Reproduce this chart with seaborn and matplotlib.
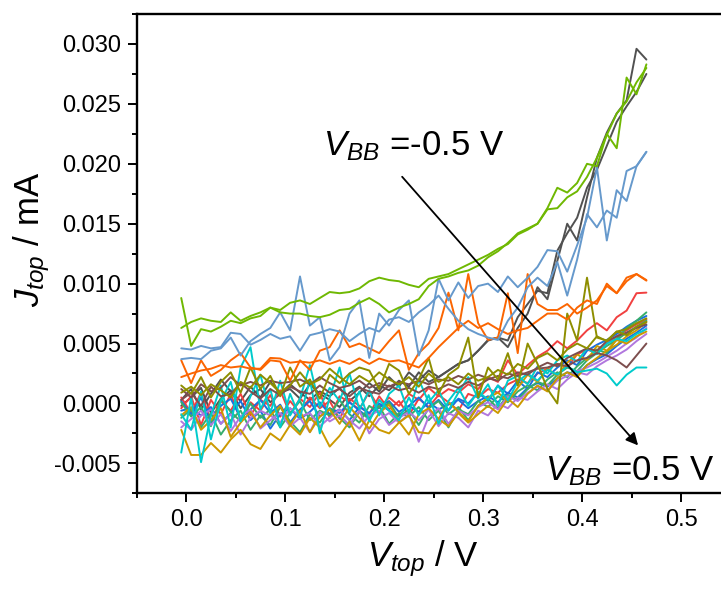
import matplotlib
matplotlib.use("Agg")
import matplotlib.pyplot as plt
import numpy as np
import pandas as pd
import seaborn as sns
from matplotlib.ticker import MultipleLocator, FormatStrFormatter

# Top-electrode bias sweep (V)
V_top = [-0.005, 0.005, 0.015, 0.025, 0.035, 0.045, 0.055, 0.065, 0.075, 0.085,
         0.095, 0.105, 0.115, 0.125, 0.135, 0.145, 0.155, 0.165, 0.175, 0.185,
         0.195, 0.205, 0.215, 0.225, 0.235, 0.245, 0.255, 0.265, 0.275, 0.285,
         0.295, 0.305, 0.315, 0.325, 0.335, 0.345, 0.355, 0.365, 0.375, 0.385,
         0.395, 0.405, 0.415, 0.425, 0.435, 0.445, 0.455, 0.465]

# Top-electrode current, in units of 1e-3 mA (two sweeps per curve colour)
J_gray_1 = [0.3, 1.2, -0.5, 0.8, 2.0, 1.0, 0.2, 1.4, 0.5, 1.8, 0.9, 1.2, 0.4, 1.6, 0.8, 0.3,
            -0.3, 0.9, 1.4, 0.6, 1.5, 1.1, 1.9, 1.4, 2.6, 1.8, 2.2, 2.75, 3.3, 3.6, 4.4, 5.3,
            5.5, 4.7, 6.3, 7.5, 9.7, 8.7, 11.9, 15.0, 13.6, 17.2, 20.5, 22.6, 24.2, 25.3, 29.6, 28.7]
J_gray_2 = [-0.2, 0.5, 1.3, -0.8, 0.4, 1.1, -0.4, 0.7, 1.2, 0.1, 0.8, 1.6, 0.9, 0.3, 1.0, 0.6,
            1.3, 0.2, 0.9, 1.7, 1.0, 2.2, 1.4, 2.6, 1.9, 2.75, 2.2, 2.75, 3.3, 3.6, 4.4, 5.25,
            5.5, 5.25, 7.2, 8.3, 9.4, 9.2, 12.75, 14.2, 15.5, 18.0, 19.5, 21.5, 23.5, 24.8, 26.0, 27.5]
J_red_1 = [0.5, -0.8, 0.9, -1.5, 0.2, -0.6, 0.8, -1.0, 0.3, -0.2, 1.1, -0.9, 0.4, -0.3, 0.9, -1.2,
           0.6, 0.1, -0.5, 1.0, -0.4, 0.5, -0.2, 0.8, 0.3, 1.3, 0.6, 1.2, 0.9, 1.6, 1.2, 2.2,
           1.8, 3.6, 2.4, 3.2, 3.9, 4.4, 5.2, 4.6, 5.25, 6.1, 6.7, 6.1, 7.2, 7.75, 9.2, 9.25]
J_red_2 = [-0.4, 0.6, -1.8, 0.3, -0.9, 0.8, -1.4, 0.1, -0.6, 0.7, -1.1, 0.2, -0.8, 0.5, -0.4, 0.2,
           -1.3, 0.4, -0.2, -0.9, 0.6, -0.5, 0.2, -1.0, 0.4, -0.3, 0.7, 0.1, -0.6, 0.8, 0.5, 1.2,
           0.9, 1.6, 2.0, 1.7, 2.5, 2.9, 3.3, 3.0, 4.1, 4.5, 4.2, 5.0, 5.6, 6.1, 6.6, 7.0]
J_blue_1 = [0.2, -0.9, 0.5, -1.6, -0.2, 0.4, -1.2, -0.5, 0.3, -0.8, -0.1, -1.6, -0.5, 0.2, -1.1, -0.4,
            -0.8, 0.1, -0.6, -1.2, -0.3, 0.2, -0.7, -0.2, 0.5, -0.4, 0.3, -0.6, 0.4, 0.0, 0.9, 0.2,
            1.5, 0.8, 1.9, 1.2, 2.6, 2.2, 3.0, 3.6, 3.2, 4.4, 4.9, 5.3, 5.8, 6.4, 6.9, 7.3]
J_blue_2 = [-0.6, -0.4, -1.0, -0.3, -1.7, -0.8, 0.2, -1.4, -0.6, -2.1, -0.9, -0.4, -1.3, -0.7, 0.1, -0.9,
            -0.5, -1.4, -0.3, -0.8, 0.0, -0.6, -1.0, -0.2, -0.7, 0.1, -0.5, -0.1, 0.3, -0.4, 0.2, 0.6,
            0.1, 0.9, 0.5, 1.3, 1.7, 1.4, 2.1, 2.6, 2.4, 3.2, 3.7, 4.1, 4.8, 5.4, 5.9, 6.5]
J_green_1 = [-1.2, -0.5, -2.0, -0.8, -2.6, -1.4, -0.6, -2.2, -1.0, -1.8, -0.3, -1.5, -2.4, -0.9, -1.6, -0.4,
             -1.2, -2.0, -0.7, -1.3, -0.2, -1.7, -0.8, -1.1, -0.3, -1.4, -0.6, -2.0, -0.5, -0.9, 0.2, -0.3,
             0.6, 0.1, 1.0, 1.5, 1.1, 2.0, 2.6, 2.2, 3.1, 3.8, 4.5, 4.2, 5.4, 6.3, 6.9, 7.6]
J_green_2 = [0.1, -1.1, -0.3, -1.9, 0.4, -0.7, -1.5, 0.0, -1.2, -0.5, -2.0, -0.8, 0.2, -1.4, -0.6, -1.0,
             0.3, -0.9, -1.6, -0.2, -0.8, 0.1, -1.2, -0.5, -1.8, -0.4, 0.2, -0.9, -0.3, -1.4, -0.2, 0.4,
             -0.4, 0.7, 0.3, 1.2, 1.8, 1.5, 2.4, 3.0, 2.7, 3.6, 4.2, 4.8, 5.3, 5.9, 6.4, 6.9]
J_purple_1 = [-2.0, -1.3, -0.6, -1.8, -0.9, -2.3, -1.1, -0.5, -2.1, -1.4, -0.8, -1.9, -1.2, -2.4, -0.7, -1.5,
              -1.0, -1.8, -0.6, -2.5, -1.3, -0.8, -1.6, -0.9, -3.2, -1.1, -0.4, -1.7, -0.6, -1.0, -0.3, 0.1,
              -0.5, 0.6, 0.2, 0.9, 1.4, 1.1, 1.9, 2.3, 2.7, 3.0, 3.4, 3.9, 4.4, 5.0, 5.5, 6.3]
J_purple_2 = [-1.5, -2.2, -1.0, -0.5, -1.7, -0.9, -2.6, -1.2, -0.6, -1.0, -1.6, -0.4, -1.1, -0.8, -1.9, -1.2,
              -0.5, -1.4, -2.1, -1.0, -0.6, -1.8, -1.2, -0.7, -1.4, -0.5, -1.9, -0.8, -1.2, -2.0, -0.6, -1.0,
              0.0, -0.4, 0.5, 0.3, 1.0, 1.6, 1.2, 2.0, 2.6, 2.4, 3.1, 3.6, 4.0, 4.5, 5.2, 5.8]
J_gold_1 = [-2.2, -4.3, -4.3, -3.3, -4.1, -3.0, -2.2, -3.4, -3.8, -2.5, -3.1, -1.8, -2.6, -1.2, -2.0, -3.6,
            -2.7, -1.5, -3.1, -1.4, -2.2, -2.5, -1.6, -1.0, -2.4, -2.5, -1.3, -1.9, -0.8, -1.6, -0.9, -0.2,
            -0.8, 0.4, -0.3, 0.8, 1.5, 1.0, 2.1, 2.6, 2.2, 3.2, 3.8, 4.4, 4.9, 5.6, 6.1, 6.8]
J_gold_2 = [-1.0, -0.3, -2.2, -1.4, -0.4, -2.8, -1.6, -0.7, -2.0, -1.0, -0.2, -1.8, -0.6, -2.4, -1.1, -0.5,
            -1.7, -0.3, -1.2, -2.1, -0.8, -0.1, -1.5, -2.6, -0.9, -0.4, -1.3, 0.1, -0.7, -1.5, -0.2, 0.5,
            0.9, 0.2, 1.3, 2.4, 1.8, 2.9, 2.3, 3.4, 4.1, 3.6, 4.8, 4.4, 5.3, 5.0, 5.6, 6.0]
J_cyan_1 = [-4.1, 0.5, -4.9, -1.0, 1.5, -2.0, 3.0, 4.7, -0.5, 1.2, -2.0, 0.8, -1.2, 2.0, -2.5, 0.5,
            3.0, -0.8, 1.0, -1.5, 0.3, -0.6, -1.4, 0.5, -1.0, 0.7, -1.7, 0.2, 1.3, -0.2, 1.0, 0.3,
            1.5, 0.25, 1.8, 2.5, 1.9, 2.8, 2.4, 3.1, 2.6, 2.75, 2.9, 2.5, 1.5, 2.4, 3.0, 3.0]
J_cyan_2 = [-0.9, -2.2, 1.0, -3.0, 0.2, 1.8, -1.5, 0.6, 2.4, -0.8, 1.9, -1.0, 0.4, 3.2, -0.3, 1.3,
            0.2, 2.5, -0.5, 1.1, -1.0, 0.8, 1.5, -0.8, 2.0, 0.1, 1.1, -0.6, 0.9, 2.2, 0.4, 1.6,
            -0.2, 1.9, 2.3, 1.6, 3.1, 2.5, 3.6, 4.0, 3.5, 4.6, 4.1, 5.0, 5.4, 5.2, 5.8, 6.2]
J_brown_1 = [1.2, 0.5, 1.6, 1.0, 1.3, 2.2, 1.5, 1.8, 1.5, 1.9, 1.7, 1.8, 2.0, 1.6, 2.2, 1.7,
             1.3, 1.5, 1.9, 1.3, 1.7, 1.4, 1.8, 1.6, 1.9, 1.6, 2.0, 1.9, 2.3, 2.0, 2.4, 2.1,
             1.9, 2.5, 2.3, 2.6, 2.9, 3.0, 3.3, 3.1, 3.6, 3.8, 4.2, 4.0, 3.6, 3.0, 4.0, 5.0]
J_brown_2 = [0.3, 0.9, -0.2, 1.4, 0.6, 0.8, 1.7, 1.0, 0.4, 1.2, 0.7, 1.4, 1.0, 0.8, 1.5, 0.9,
             1.2, 0.6, 1.3, 1.0, 0.8, 1.5, 1.1, 1.3, 0.9, 1.4, 1.2, 1.6, 1.3, 1.8, 1.5, 2.0,
             2.3, 2.1, 2.6, 2.4, 3.0, 3.4, 3.1, 3.8, 4.2, 4.6, 4.4, 5.2, 5.6, 5.9, 6.3, 6.6]
J_olive_1 = [1.5, 0.8, 2.2, 0.5, 1.8, 2.6, 0.9, 3.0, 1.2, 2.3, 0.6, 3.0, 1.4, 2.0, 0.4, 2.4,
             1.7, 2.5, 3.0, 2.75, 1.2, 3.3, 2.75, 0.8, 2.0, 3.8, 0.8, 2.4, 3.0, 5.5, 0.5, 3.0,
             2.0, 4.2, 1.5, 5.0, 3.3, 1.2, 0.0, 7.5, 5.25, 10.5, 5.5, 5.25, 6.0, 6.2, 6.7, 7.1]
J_olive_2 = [0.9, 1.4, 0.7, 1.6, 1.1, 0.5, 1.8, 1.3, 2.4, 1.7, 0.9, 1.5, 2.6, 1.6, 2.0, 2.9,
             2.2, 1.6, 2.3, 1.8, 2.6, 2.0, 1.6, 2.2, 1.4, 2.5, 1.8, 2.2, 1.6, 2.5, 1.9, 2.2,
             2.8, 2.4, 3.3, 2.9, 3.8, 4.2, 3.6, 4.5, 5.0, 4.6, 5.6, 5.2, 6.0, 5.7, 6.4, 6.8]
J_orange_1 = [3.6, 1.7, 3.6, 2.3, 2.8, 3.6, 4.2, 3.0, 2.8, 3.6, 3.5, 1.9, 3.6, 2.8, 4.4, 4.7,
              6.1, 4.7, 5.0, 4.6, 4.2, 5.2, 6.1, 2.8, 4.2, 5.0, 6.3, 9.25, 6.1, 10.8, 6.7, 5.3,
              5.5, 9.2, 4.2, 10.8, 8.3, 7.8, 7.8, 8.3, 7.5, 8.0, 8.6, 9.8, 9.2, 10.5, 10.8, 10.3]
J_orange_2 = [2.2, 2.5, 2.75, 2.9, 3.2, 3.0, 3.1, 2.9, 2.9, 3.8, 3.75, 3.4, 3.5, 3.4, 3.6, 3.3,
              3.6, 3.3, 3.75, 3.3, 3.75, 3.5, 3.6, 3.3, 3.0, 3.8, 4.7, 5.5, 6.3, 6.9, 6.3, 6.7,
              6.2, 5.8, 6.1, 6.3, 6.9, 7.5, 7.5, 7.0, 8.0, 8.6, 8.3, 10.0, 9.2, 10.2, 10.8, 10.25]
J_steel_1 = [3.7, 3.8, 3.7, 4.4, 4.6, 5.5, 4.0, 5.2, 5.8, 6.3, 7.6, 6.1, 10.6, 6.5, 7.2, 3.6,
             4.7, 7.5, 8.6, 3.8, 7.5, 6.5, 7.8, 8.6, 4.0, 6.1, 10.4, 8.6, 10.1, 8.8, 9.8, 10.0,
             9.3, 10.6, 9.7, 10.5, 11.4, 12.8, 12.7, 11.0, 13.2, 15.5, 19.7, 13.6, 17.8, 16.9, 19.8, 21.0]
J_steel_2 = [4.6, 4.5, 4.8, 4.6, 4.7, 5.9, 5.8, 4.9, 5.3, 5.8, 5.4, 5.6, 4.4, 5.7, 5.9, 6.2,
             6.0, 5.2, 5.8, 6.3, 6.0, 7.0, 7.2, 6.8, 7.6, 8.2, 9.0, 7.9, 6.9, 6.2, 5.8, 5.5,
             5.3, 6.9, 8.0, 9.7, 10.5, 9.8, 11.8, 9.0, 12.0, 15.8, 14.7, 16.1, 15.5, 19.4, 19.8, 21.0]
J_lime_1 = [8.8, 4.8, 6.2, 6.0, 6.4, 6.9, 6.7, 7.1, 7.3, 8.0, 7.6, 7.5, 7.5, 7.3, 7.2, 7.4,
            7.8, 7.9, 8.4, 8.8, 8.3, 7.6, 8.0, 8.3, 8.7, 9.8, 10.4, 10.6, 10.9, 11.1, 11.5, 12.2,
            12.7, 13.4, 14.2, 14.6, 15.0, 16.2, 16.3, 17.2, 17.7, 18.9, 20.5, 22.4, 24.2, 25.2, 26.8, 28.0]
J_lime_2 = [6.3, 6.8, 7.1, 6.9, 6.8, 7.6, 6.9, 7.3, 7.6, 8.0, 7.8, 8.4, 8.6, 8.3, 8.8, 9.3,
            9.2, 9.3, 9.6, 10.2, 10.5, 10.3, 10.2, 9.9, 9.7, 10.4, 10.6, 10.8, 11.2, 11.6, 12.0, 12.4,
            12.9, 13.3, 14.1, 14.5, 15.0, 16.3, 18.0, 17.6, 18.4, 20.0, 19.8, 22.5, 21.3, 27.2, 25.8, 28.3]

curve_colors = ["#515151", "#F14040", "#1A6FDF", "#37AD6B", "#B177DE", "#CC9900",
                "#00CBCC", "#7D4E4E", "#8E8E00", "#FB6501", "#6699CC", "#6FB802"]
curve_sets = [(J_gray_1, J_gray_2), (J_red_1, J_red_2), (J_blue_1, J_blue_2),
              (J_green_1, J_green_2), (J_purple_1, J_purple_2), (J_gold_1, J_gold_2),
              (J_cyan_1, J_cyan_2), (J_brown_1, J_brown_2), (J_olive_1, J_olive_2),
              (J_orange_1, J_orange_2), (J_steel_1, J_steel_2), (J_lime_1, J_lime_2)]

frames, palette = [], {}
for color, pair in zip(curve_colors, curve_sets):
    for k, J in enumerate(pair):
        name = f"{color}-{k}"
        palette[name] = color
        frames.append(pd.DataFrame({"V": V_top, "J": np.asarray(J) * 1e-3, "curve": name}))
df = pd.concat(frames, ignore_index=True)

sns.set_theme(style="ticks")
plt.rcParams["font.family"] = ["Liberation Sans", "DejaVu Sans"]
plt.rcParams["mathtext.fontset"] = "custom"
plt.rcParams["mathtext.rm"] = "Liberation Sans"
plt.rcParams["mathtext.it"] = "Liberation Sans:italic"
plt.rcParams["mathtext.bf"] = "Liberation Sans:bold"
plt.rcParams["axes.unicode_minus"] = False
for key in ["text.color", "axes.labelcolor", "xtick.color", "ytick.color",
            "xtick.labelcolor", "ytick.labelcolor", "axes.edgecolor"]:
    plt.rcParams[key] = "black"

fig = plt.figure(figsize=(7.21, 5.95), dpi=100)
ax = fig.add_axes([0.1896, 0.1709, 0.8236, 0.8055])

sns.lineplot(data=df, x="V", y="J", hue="curve", palette=palette, estimator=None,
             sort=False, legend=False, linewidth=1.4, ax=ax)

ax.set_xlim(-0.05, 0.55)
ax.set_ylim(-0.0075, 0.0325)
ax.xaxis.set_major_locator(MultipleLocator(0.1))
ax.xaxis.set_minor_locator(MultipleLocator(0.05))
ax.yaxis.set_major_locator(MultipleLocator(0.005))
ax.yaxis.set_minor_locator(MultipleLocator(0.0025))
ax.xaxis.set_major_formatter(FormatStrFormatter("%.1f"))
ax.yaxis.set_major_formatter(FormatStrFormatter("%.3f"))

for side in ["left", "bottom", "top", "right"]:
    ax.spines[side].set_linewidth(1.7)
    ax.spines[side].set_color("black")
ax.tick_params(which="major", direction="out", length=6.5, width=1.4,
               labelsize=17, pad=5, colors="black", top=False, right=False)
ax.tick_params(which="minor", direction="out", length=3.6, width=1.4,
               colors="black", top=False, right=False)

ax.set_xlabel(r"$V_{top}$ / V", fontsize=25, color="black")
ax.set_ylabel(r"$J_{top}$ / mA", fontsize=25, color="black")
ax.xaxis.set_label_coords(0.4813, -0.093)
ax.yaxis.set_label_coords(-0.1426, 0.53)

ax.text(0.1384, 0.02067, r"$V_{BB}$ =-0.5 V", fontsize=25, ha="left", va="baseline",
        color="black")
ax.text(0.3626, -0.00642, r"$V_{BB}$ =0.5 V", fontsize=25, ha="left", va="baseline",
        color="black")
ax.annotate("", xy=(0.4566, -0.0035), xytext=(0.2182, 0.01892),
            arrowprops=dict(arrowstyle="-|>", color="black", lw=1.3,
                            mutation_scale=18, shrinkA=0, shrinkB=0))

fig.savefig("out.png", dpi=100, facecolor="white")
